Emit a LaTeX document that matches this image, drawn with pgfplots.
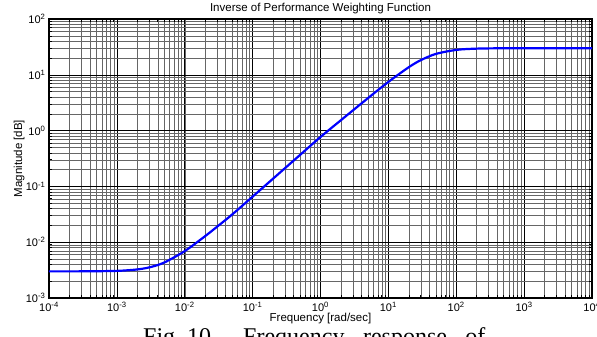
\documentclass[border=0pt]{standalone}
\usepackage{pgfplots}
\pgfplotsset{compat=1.18}
\usepackage{fontspec}
\setmainfont{Liberation Sans}
\newfontfamily\captionserif{Liberation Serif}

\definecolor{curveblue}{RGB}{0,0,255}

% |W_p(jw)|^{-1}, sampled on a log grid
\pgfplotstableread{
w        mag
1e-4     0.003001
3.16e-4  0.003007
1e-3     0.003064
2e-3     0.00325
3.16e-3  0.003593
5e-3     0.004332
1e-2     0.006933
2e-2     0.01286
3.16e-2  0.01999
5e-2     0.0314
1e-1     0.0656
2e-1     0.1376
5e-1     0.3666
1        0.769
2        1.536
5        3.815
10       7.451
20       13.69
30       18.29
50       23.65
100      27.95
200      29.44
500      29.91
1000     29.98
1e4      30.0
}\invweight

\begin{document}
\begin{tikzpicture}
\begin{axis}[
  name=ax,
  scale only axis,
  width=543pt, height=279pt,
  xmode=log, ymode=log,
  xmin=1e-4, xmax=1e4,
  ymin=1e-3, ymax=1e2,
  xtick={1e-4,1e-3,1e-2,1e-1,1,1e1,1e2,1e3,1e4},
  xticklabels={10\textsuperscript{-4},10\textsuperscript{-3},10\textsuperscript{-2},10\textsuperscript{-1},10\textsuperscript{0},10\textsuperscript{1},10\textsuperscript{2},10\textsuperscript{3},10\textsuperscript{4}},
  ytick={1e-3,1e-2,1e-1,1,1e1,1e2},
  yticklabels={10\textsuperscript{-3},10\textsuperscript{-2},10\textsuperscript{-1},10\textsuperscript{0},10\textsuperscript{1},10\textsuperscript{2}},
  tick label style={font=\fontsize{11}{12}\selectfont},
  xticklabel style={yshift=-1pt},
  grid=both,
  major grid style={black, line width=0.55pt},
  minor grid style={black!60, line width=0.45pt},
  tick align=inside,
  tick pos=both,
  major tick length=5pt,
  minor tick length=3pt,
  every tick/.style={black, line width=0.6pt},
  axis line style={black, line width=1.2pt},
  title={Inverse of Performance Weighting Function},
  title style={font=\fontsize{11.5}{13}\selectfont, at={(axis description cs:0.5,1)}, anchor=base, yshift=2pt},
  xlabel={Frequency [rad/sec]},
  xlabel style={font=\fontsize{11.5}{13}\selectfont, at={(axis description cs:0.5,0)}, anchor=base, yshift=-23pt},
  ylabel={Magnitude [dB]},
  ylabel style={font=\fontsize{11.5}{13}\selectfont, at={(axis description cs:-0.0497,0.5)}, anchor=base},
]
\addplot[curveblue, line width=2.2pt, smooth] table[x=w, y=mag] {\invweight};
\end{axis}
% caption line below the figure (justified, so the word spaces are stretched)
\node[anchor=base west, inner sep=0pt, font=\captionserif\fontsize{24}{28}\selectfont]
  at ([xshift=94pt, yshift=-46pt]ax.south west)
  {Fig.\hspace{6pt}10.\hspace{26pt}Frequency\hspace{18.5pt}response\hspace{18.5pt}of};
\pgfresetboundingbox
\useasboundingbox ([xshift=-49pt, yshift=-38pt]ax.south west) rectangle ([xshift=5pt, yshift=19pt]ax.north east);
\end{tikzpicture}
\end{document}
